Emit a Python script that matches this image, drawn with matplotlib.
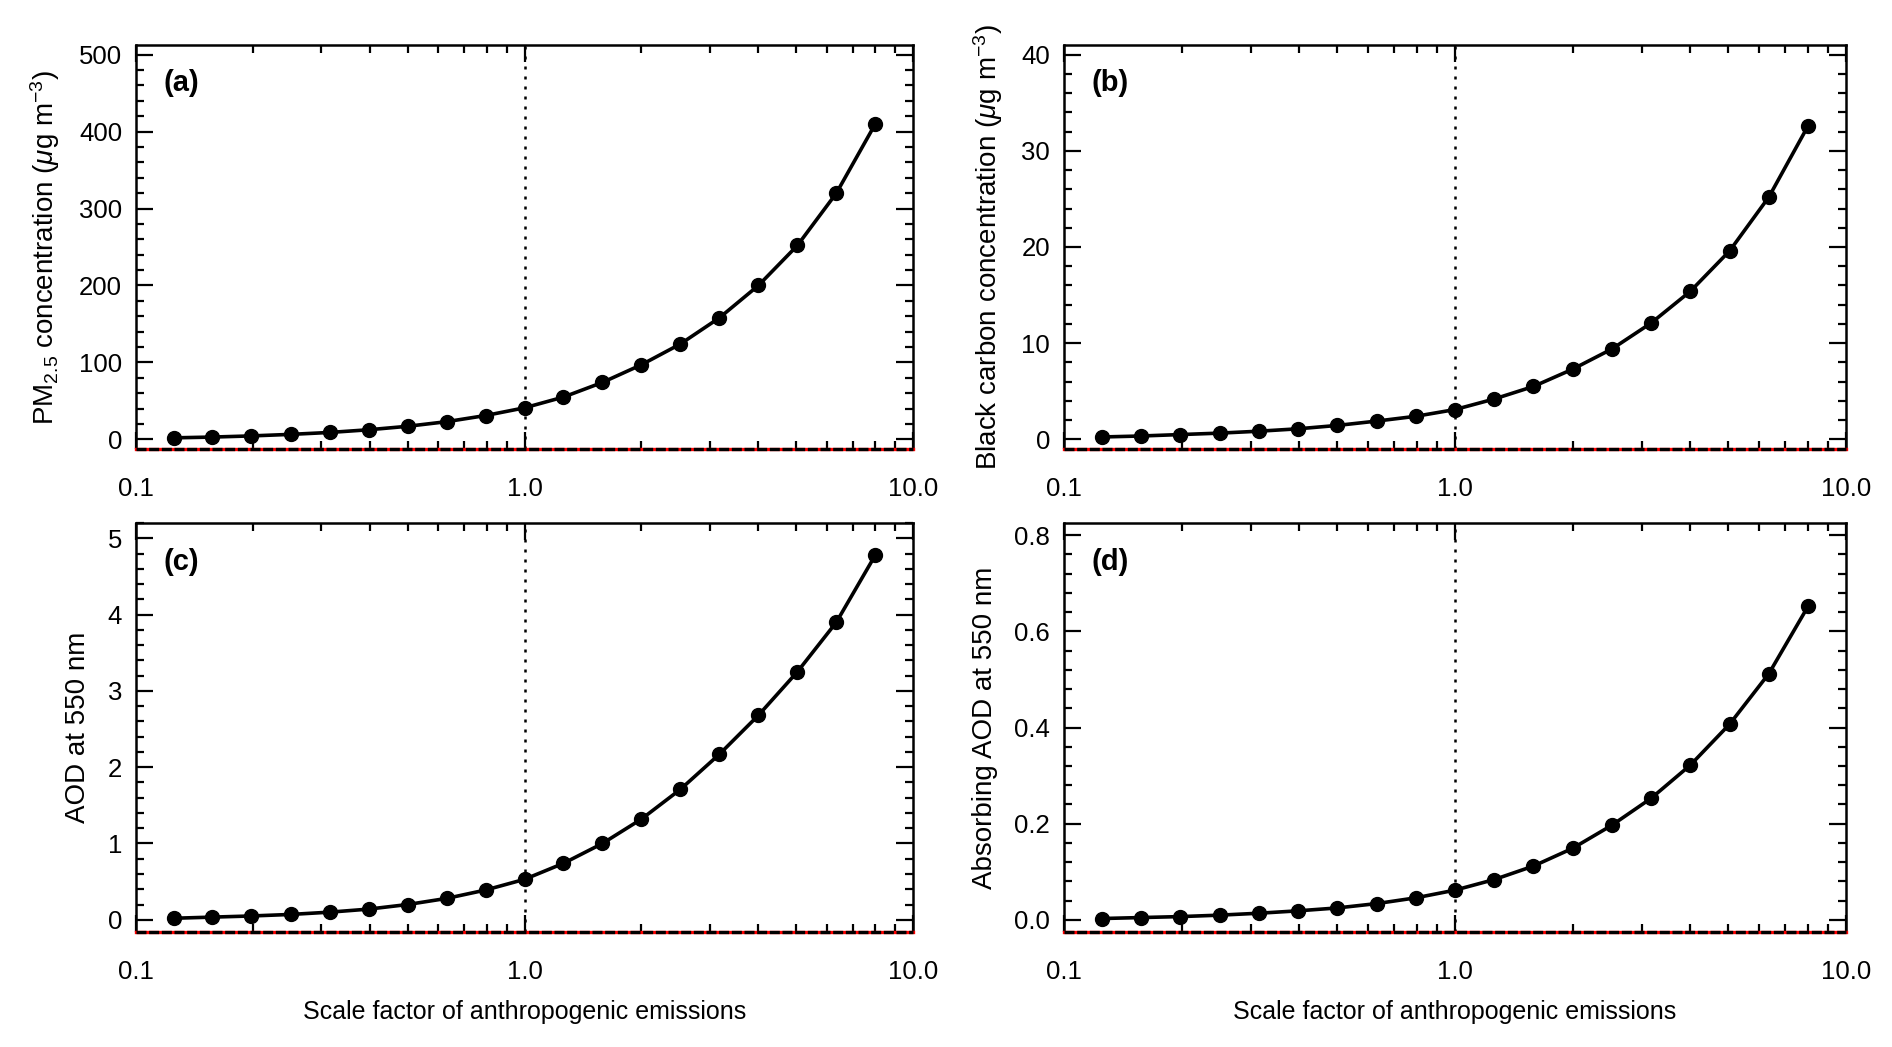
import numpy as np
import matplotlib as mpl
import matplotlib.pyplot as plt
from matplotlib.ticker import MultipleLocator, FixedLocator, FixedFormatter, LogLocator, NullFormatter

mpl.rcParams['font.family'] = ['Liberation Sans Narrow', 'Liberation Sans', 'DejaVu Sans']
mpl.rcParams['mathtext.fontset'] = 'custom'
mpl.rcParams['mathtext.rm'] = 'Liberation Sans'
mpl.rcParams['mathtext.it'] = 'Liberation Sans:italic'

# scale factor of anthropogenic emissions
scale = [0.125, 0.157, 0.198, 0.25, 0.315, 0.397, 0.5, 0.63, 0.794, 1.0,
         1.26, 1.587, 2.0, 2.52, 3.175, 4.0, 5.04, 6.35, 8.0]

pm25 = [2, 3, 4.5, 6.5, 9, 12.5, 17, 23, 31, 41,
        55, 74, 97, 124, 158, 200, 252, 320, 410]
bc = [0.25, 0.35, 0.5, 0.65, 0.85, 1.1, 1.45, 1.9, 2.4, 3.1,
      4.2, 5.5, 7.3, 9.4, 12.1, 15.4, 19.6, 25.2, 32.6]
aod = [0.02, 0.035, 0.05, 0.07, 0.1, 0.14, 0.2, 0.28, 0.39, 0.53,
       0.74, 1.0, 1.32, 1.71, 2.17, 2.68, 3.25, 3.9, 4.78]
aaod = [0.003, 0.005, 0.007, 0.01, 0.014, 0.019, 0.025, 0.034, 0.046, 0.062,
        0.084, 0.112, 0.149, 0.197, 0.253, 0.322, 0.407, 0.512, 0.652]

panels = ['(a)', '(b)', '(c)', '(d)']
ylabels = [r'PM$_{2.5}$ concentration ($\mu$g m$^{-3}$)',
           r'Black carbon concentration ($\mu$g m$^{-3}$)',
           'AOD at 550 nm',
           'Absorbing AOD at 550 nm']
ylims = [(-12.5, 512.5), (-1, 41), (-0.16, 5.2), (-0.025, 0.825)]
ymajor = [100, 10, 1, 0.2]
yminor = [20, 2, 0.2, 0.04]
yfmt = ['%d', '%d', '%d', '%.1f']
series = [pm25, bc, aod, aaod]

fig = plt.figure(figsize=(18.92, 10.47), dpi=100)
W, H = 1892., 1047.
lefts = [136, 1064]
rights = [913, 1846]
tops = [45, 523]
bottoms = [449, 932]

for i in range(4):
    r, c = i // 2, i % 2
    ax = fig.add_axes([lefts[c]/W, (H-bottoms[r])/H,
                       (rights[c]-lefts[c])/W, (bottoms[r]-tops[r])/H])
    ax.set_xscale('log')
    ax.set_xlim(0.1, 10)
    ax.set_ylim(ylims[i])

    ax.axvline(1.0, color='k', ls=(0, (1.2, 2.8)), lw=1.8, zorder=2)
    # red/black dotted line along the bottom edge
    ax.axhline(ylims[i][0], color='red', lw=2.4, clip_on=False, zorder=5)
    ax.axhline(ylims[i][0], color='k', lw=2.4, ls=(0, (3.0, 0.8)), clip_on=False, zorder=5)

    ax.plot(scale, series[i], color='k', lw=2.6, marker='o', ms=10, zorder=4)

    ax.xaxis.set_major_locator(FixedLocator([0.1, 1.0, 10.0]))
    ax.xaxis.set_major_formatter(FixedFormatter(['0.1', '1.0', '10.0']))
    ax.xaxis.set_minor_locator(LogLocator(base=10, subs=np.arange(2, 10)))
    ax.xaxis.set_minor_formatter(NullFormatter())
    ax.yaxis.set_major_locator(MultipleLocator(ymajor[i]))
    ax.yaxis.set_minor_locator(MultipleLocator(yminor[i]))
    ax.yaxis.set_major_formatter(mpl.ticker.FormatStrFormatter(yfmt[i]))

    ax.tick_params(which='both', direction='in', top=True, right=True,
                   width=1.6, labelsize=18.5)
    ax.tick_params(which='major', length=12)
    ax.tick_params(which='minor', length=6)
    ax.tick_params(axis='x', which='major', pad=20)
    ax.tick_params(axis='y', which='major', pad=10)
    for sp in ax.spines.values():
        sp.set_linewidth(1.8)
    ax.spines['bottom'].set_visible(False)

    ax.set_ylabel(ylabels[i], fontsize=20, family=['Liberation Sans', 'DejaVu Sans'],
                  labelpad=12)
    if r == 1:
        ax.set_xlabel('Scale factor of anthropogenic emissions', fontsize=18, labelpad=12)

    ax.text(0.035, 0.905, panels[i], transform=ax.transAxes, fontsize=21,
            fontweight='bold', ha='left', va='center')

fig.savefig('out.png', dpi=100)
